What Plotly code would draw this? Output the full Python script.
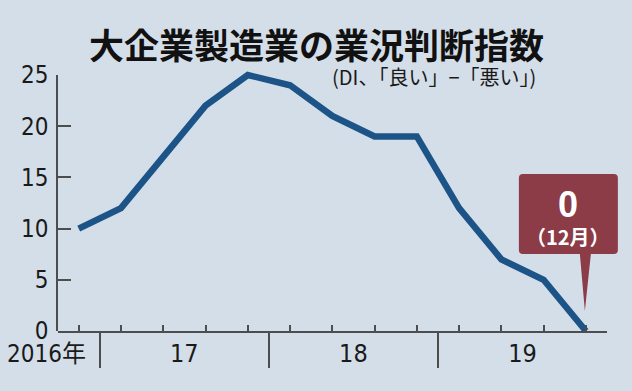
import plotly.graph_objects as go

# ---- data ----
quarters = ["2016-12", "2017-03", "2017-06", "2017-09", "2017-12", "2018-03", "2018-06",
            "2018-09", "2018-12", "2019-03", "2019-06", "2019-09", "2019-12"]
di = [10, 12, 17, 22, 25, 24, 21, 19, 19, 12, 7, 5, 0]
y_ticks = [0, 5, 10, 15, 20, 25]
year_labels = ["17", "18", "19"]
first_year_label = "2016年"
title_text = "大企業製造業の業況判断指数"
subtitle_text = "(DI、「良い」−「悪い」)"
callout_value = "0"
callout_month = "（12月）"

# ---- derived positions (from data) ----
xs = list(range(len(di)))
years = [q[:4] for q in quarters]
boundaries = [i - 0.5 for i in range(1, len(years)) if years[i] != years[i - 1]]
year_pos = []
for y in ["2017", "2018", "2019"]:
    idx = [i for i, yy in enumerate(years) if yy == y]
    year_pos.append((min(idx) - 0.5 + max(idx) + 0.5) / 2)

# ---- style ----
W, H = 632, 391
ML, MR, MT, MB = 58, 25, 70, 55
PAD = 5
plot_h = H - MT - MB
plot_w = W - ML - MR
ymax = y_ticks[-1]
ppu = (plot_h - 2 * PAD) / ymax
xr = [-0.49, 12.5]
BG = "#d4dee9"
LINE = "#1c5487"
AX = "#4d4d4d"
MAROON = "#8b3c47"
NUMFONT = "Liberation Sans Narrow, DejaVu Sans Condensed, Arial Narrow, sans-serif"
JPFONT = "Noto Sans CJK JP, Noto Sans CJK SC, sans-serif"

fig = go.Figure()
fig.add_trace(go.Scatter(
    x=xs, y=di, mode="lines", xaxis="x", yaxis="y2",
    line=dict(color=LINE, width=6.5, shape="linear"),
    hoverinfo="skip", showlegend=False,
))
fig.add_trace(go.Scatter(
    x=[year_pos[0]], y=[0], mode="markers", xaxis="x2", yaxis="y",
    marker=dict(opacity=0), hoverinfo="skip", showlegend=False,
))

fig.update_layout(
    width=W, height=H,
    margin=dict(l=ML, r=MR, t=MT, b=MB, autoexpand=False),
    paper_bgcolor=BG, plot_bgcolor="rgba(0,0,0,0)",
    showlegend=False,
    xaxis=dict(
        range=xr, domain=[0, 1], anchor="y", automargin=False,
        showline=True, linecolor=AX, linewidth=1.5,
        showgrid=False, zeroline=False,
        tickmode="array", tickvals=boundaries, ticks="outside",
        ticklen=35, tickwidth=1.5, tickcolor=AX, showticklabels=False,
        minor=dict(tickmode="array", tickvals=xs, ticks="inside",
                   ticklen=6, tickwidth=1.5, tickcolor=AX),
    ),
    xaxis2=dict(
        range=xr, overlaying="x", anchor="y", side="bottom", automargin=False,
        showline=False, showgrid=False, zeroline=False, ticks="",
        tickmode="array", tickvals=year_pos, ticktext=year_labels,
        tickfont=dict(family=NUMFONT, size=25, color="#1a1a1a"),
        ticklabelstandoff=5,
    ),
    yaxis=dict(
        range=[0, ymax], domain=[PAD / plot_h, 1 - PAD / plot_h], anchor="x",
        automargin=False,
        showline=True, linecolor=AX, linewidth=1.5,
        showgrid=False, zeroline=False,
        tickmode="array", tickvals=y_ticks, ticks="inside",
        ticklen=13, tickwidth=1.5, tickcolor=AX,
        tickfont=dict(family=NUMFONT, size=24, color="#1a1a1a"),
        ticklabelstandoff=3,
    ),
    yaxis2=dict(
        range=[-PAD / ppu, ymax + PAD / ppu], domain=[0, 1], anchor="x",
        visible=False, automargin=False,
    ),
)

# callout box with pointer (pixel offsets, anchored at last data point)
last_x, last_y = xs[-1], di[-1]
xpaper = (last_x - xr[0]) / (xr[1] - xr[0])
L_, R_, B_, T_, r = -67, 32, 77, 157, 4
tip_x, tip_y, pw_l, pw_r = -1, 20, -6, 5
path = (f"M {L_+r},{T_} L {R_-r},{T_} Q {R_},{T_} {R_},{T_-r} L {R_},{B_+r} "
        f"Q {R_},{B_} {R_-r},{B_} L {pw_r},{B_} L {tip_x},{tip_y} L {pw_l},{B_} "
        f"L {L_+r},{B_} Q {L_},{B_} {L_},{B_+r} L {L_},{T_-r} Q {L_},{T_} {L_+r},{T_} Z")
fig.add_shape(type="path", xref="paper", yref="y", xsizemode="pixel", ysizemode="pixel",
              xanchor=xpaper, yanchor=last_y, path=path,
              fillcolor=MAROON, line=dict(width=0), layer="above")

cx = (L_ + R_) / 2
fig.add_annotation(x=last_x, y=last_y, xref="x", yref="y2", text=f"<b>{callout_value}</b>",
                   showarrow=False, xshift=cx, yshift=127, xanchor="center", yanchor="middle",
                   font=dict(family="Liberation Sans, Arial, sans-serif", size=36, color="white"))
fig.add_annotation(x=last_x, y=last_y, xref="x", yref="y2", text=f"<b>{callout_month}</b>",
                   showarrow=False, xshift=cx, yshift=95, xanchor="center", yanchor="middle",
                   font=dict(family=JPFONT, size=20, color="white"))

# first-year label (left of first boundary)
fig.add_annotation(x=boundaries[0], y=0, xref="x", yref="y", text=first_year_label,
                   showarrow=False, xanchor="right", yanchor="middle", xshift=-12, yshift=-23,
                   font=dict(family=NUMFONT + ", " + JPFONT, size=24, color="#1a1a1a"))

# title & subtitle (page pixel centres converted to paper units)
fig.add_annotation(x=(316 - ML) / plot_w, y=1 + (MT - 44) / plot_h, xref="paper", yref="paper",
                   text=f"<b>{title_text}</b>",
                   showarrow=False, xanchor="center", yanchor="middle",
                   font=dict(family=JPFONT, size=35, color="#111111"))
fig.add_annotation(x=(538 - ML) / plot_w, y=1 + (MT - 77) / plot_h,
                   xref="paper", yref="paper", text=subtitle_text,
                   showarrow=False, xanchor="right", yanchor="middle",
                   font=dict(family=JPFONT, size=20, color="#1a1a1a"))

fig.write_html("out.html", config={"displayModeBar": False},
               post_script="document.body.style.margin='0';document.body.style.background='" + BG + "';")
